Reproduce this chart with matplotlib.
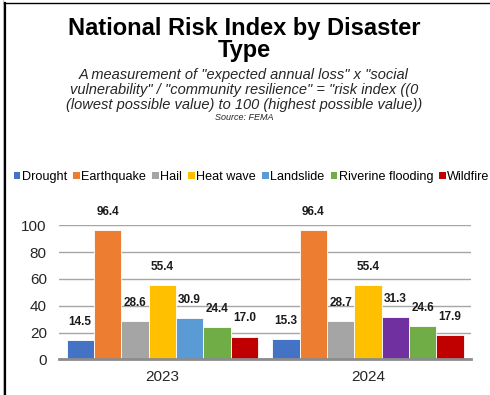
import matplotlib.pyplot as plt
from matplotlib.patches import Patch
from matplotlib.lines import Line2D
import numpy as np

plt.rcParams['font.family'] = ['Liberation Sans', 'DejaVu Sans']

years = ['2023', '2024']
hazards = ['Drought', 'Earthquake', 'Hail', 'Heat wave', 'Landslide',
           'Riverine flooding', 'Wildfire']
risk_2023 = [14.5, 96.4, 28.6, 55.4, 30.9, 24.4, 17.0]
risk_2024 = [15.3, 96.4, 28.7, 55.4, 31.3, 24.6, 17.9]

colors = ['#4472C4', '#ED7D31', '#A5A5A5', '#FFC000', '#5B9BD5',
          '#70AD47', '#C00000']
# the 2024 landslide bar is drawn in purple
colors_2024 = list(colors)
colors_2024[4] = '#7030A0'

W, H = 490, 395
fig = plt.figure(figsize=(W / 100, H / 100), dpi=100)
fig.patch.set_facecolor('white')

ax = fig.add_axes([59.3 / W, 1 - 359.3 / H, (471 - 59.3) / W, (359.3 - 225.3) / H])

n = len(hazards)
group = 0.93
bw = group / n
x = np.arange(len(years))
for yi, (vals, cols) in enumerate([(risk_2023, colors), (risk_2024, colors_2024)]):
    for i, (v, c) in enumerate(zip(vals, cols)):
        xc = x[yi] - group / 2 + bw * (i + 0.5)
        ax.bar(xc, v, width=bw, color=c, edgecolor='white', linewidth=0.6, zorder=3)
        ax.annotate(f'{v:.1f}', (xc, v), xytext=(0, 13), textcoords='offset points',
                    ha='center', va='center', fontsize=8.5, fontweight='bold',
                    color='#1a1a1a', annotation_clip=False)

ax.set_xlim(-0.5, 1.5)
ax.set_ylim(0, 100)
ax.set_yticks(range(0, 101, 20))
ax.set_xticks(x)
ax.set_xticklabels(years)
ax.tick_params(axis='both', length=0, labelsize=11, colors='#262626')
ax.tick_params(axis='y', pad=9)
ax.tick_params(axis='x', pad=8)
ax.grid(axis='y', color='#a6a6a6', linewidth=1.0, zorder=0)
for s in ['top', 'right', 'left']:
    ax.spines[s].set_visible(False)
ax.spines['bottom'].set_color('#8c8c8c')
ax.spines['bottom'].set_linewidth(2)
ax.spines['bottom'].set_zorder(4)

handles = [Patch(facecolor=c, edgecolor='none') for c in colors]
fig.legend(handles, hazards, loc='center left', bbox_to_anchor=(14 / W, 1 - 177 / H),
           ncol=7, frameon=False, fontsize=9.1, handlelength=0.5, handleheight=0.5,
           handletextpad=0.12, columnspacing=0.5, borderaxespad=0, borderpad=0)

fig.text(244 / W, 1 - 28 / H, 'National Risk Index by Disaster', ha='center', va='center',
         fontsize=17, fontweight='bold')
fig.text(244 / W, 1 - 51 / H, 'Type', ha='center', va='center',
         fontsize=17, fontweight='bold')
sub = ['A measurement of "expected annual loss" x "social',
       'vulnerability" / "community resilience" = "risk index ((0',
       '(lowest possible value) to 100 (highest possible value))']
for k, line in enumerate(sub):
    fig.text(244 / W, 1 - (75 + 15 * k) / H, line, ha='center', va='center',
             fontsize=10.5, style='italic', color='#262626')
fig.text(244 / W, 1 - 118 / H, 'Source: FEMA', ha='center', va='center',
         fontsize=6.5, style='italic', color='#262626')

# outer frame lines
fig.add_artist(Line2D([2.5 / W, 2.5 / W], [0, 1], color='#c8c8c8', linewidth=0.8))
fig.add_artist(Line2D([5 / W, 5 / W], [0, 1 - 3 / H], color='black', linewidth=1.6))
fig.add_artist(Line2D([4.4 / W, 1], [1 - 3 / H, 1 - 3 / H], color='black', linewidth=1.0))

fig.savefig('out.png', dpi=100)
